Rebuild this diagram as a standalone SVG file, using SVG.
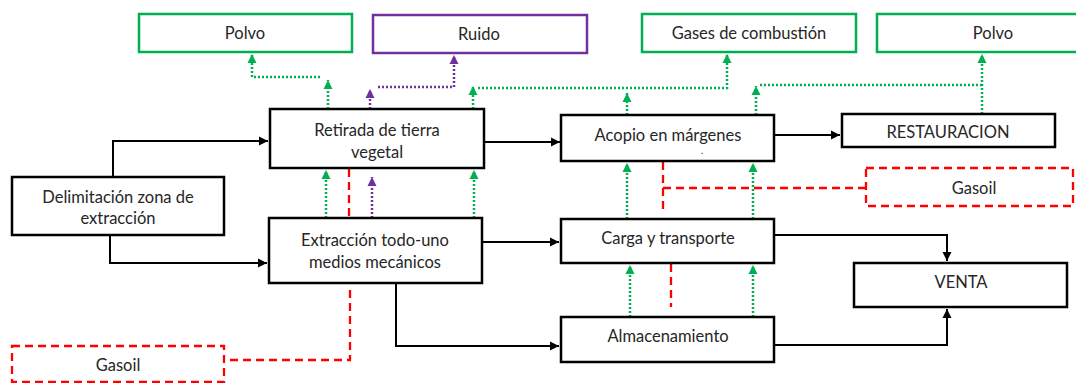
<svg xmlns="http://www.w3.org/2000/svg" width="1076" height="383" viewBox="0 0 1076 383">
<style>
.box{fill:#fff;stroke:#000;stroke-width:2.5}
.g{fill:#fff;stroke:#00b050;stroke-width:2.5}
.p{fill:#fff;stroke:#7030a0;stroke-width:2.5}
.r{fill:none;stroke:#ff0000;stroke-width:2.3;stroke-dasharray:8 5}
.t{font-family:Lato,"Open Sans",sans-serif;font-size:16.5px;fill:#262626;text-anchor:middle}
.blk{fill:none;stroke:#000;stroke-width:2}
.gd{fill:none;stroke:#00b050;stroke-width:2.5;stroke-dasharray:2 2}
.pd{fill:none;stroke:#7030a0;stroke-width:2.5;stroke-dasharray:2 2}
</style>
<defs>
<marker id="ab" markerWidth="10" markerHeight="10" refX="9" refY="5" orient="auto" markerUnits="userSpaceOnUse"><path d="M0,0.5 L9,5 L0,9.5z" fill="#000"/></marker>
<marker id="ag" markerWidth="10" markerHeight="10" refX="9" refY="5" orient="auto" markerUnits="userSpaceOnUse"><path d="M0,0.5 L9,5 L0,9.5z" fill="#00b050"/></marker>
<marker id="ap" markerWidth="10" markerHeight="10" refX="9" refY="5" orient="auto" markerUnits="userSpaceOnUse"><path d="M0,0.5 L9,5 L0,9.5z" fill="#7030a0"/></marker>
</defs>
<rect width="1076" height="383" fill="#fff"/>
<g id="connectors">
<path class="blk" d="M113,177 V141 H268" marker-end="url(#ab)"/>
<path class="blk" d="M110,235 V263 H267" marker-end="url(#ab)"/>
<path class="blk" d="M484,142 H560" marker-end="url(#ab)"/>
<path class="blk" d="M482,242 H559" marker-end="url(#ab)"/>
<path class="blk" d="M396,283 V346 H559" marker-end="url(#ab)"/>
<path class="blk" d="M774,135 H840" marker-end="url(#ab)"/>
<path class="blk" d="M774,235 H947 V261" marker-end="url(#ab)"/>
<path class="blk" d="M774,345 H947 V309" marker-end="url(#ab)"/>
<path class="gd" d="M328,109 V80" marker-end="url(#ag)"/>
<path class="gd" d="M320,77 H252 V54" marker-end="url(#ag)"/>
<path class="gd" d="M473,109 V86" marker-end="url(#ag)"/>
<path class="gd" d="M478,88 H727 V54" marker-end="url(#ag)"/>
<path class="gd" d="M627,115 V93" marker-end="url(#ag)"/>
<path class="gd" d="M756,115 V86" marker-end="url(#ag)"/>
<path class="gd" d="M760,85 H982"/>
<path class="gd" d="M982,114 V54" marker-end="url(#ag)"/>
<path class="gd" d="M326,218 V170" marker-end="url(#ag)"/>
<path class="gd" d="M474,218 V170" marker-end="url(#ag)"/>
<path class="gd" d="M627,219 V163" marker-end="url(#ag)"/>
<path class="gd" d="M753,219 V163" marker-end="url(#ag)"/>
<path class="gd" d="M630,317 V265" marker-end="url(#ag)"/>
<path class="gd" d="M753,317 V265" marker-end="url(#ag)"/>
<path class="pd" d="M370,109 V89" marker-end="url(#ap)"/>
<path class="pd" d="M378,87 H454 V55" marker-end="url(#ap)"/>
<path class="pd" d="M372,218 V177" marker-end="url(#ap)"/>
<path class="r" d="M349,169 V218"/>
<path class="r" d="M350,290 V360 H225"/>
<path class="r" d="M663,162 V213"/>
<path class="r" d="M663,188 H866"/>
<path class="r" d="M671,264 V307"/>
</g>
<g id="polvo1"><rect class="g" x="139" y="14" width="213" height="38"/><text class="t" x="245" y="39">Polvo</text></g>
<g id="ruido"><rect class="p" x="373" y="15" width="214" height="38"/><text class="t" x="479" y="40">Ruido</text></g>
<g id="gases"><rect class="g" x="642" y="14" width="214" height="38"/><text class="t" x="749" y="39">Gases de combustión</text></g>
<g id="polvo2"><rect class="g" x="877" y="14" width="210" height="38"/><text class="t" x="993" y="39">Polvo</text></g>
<g id="retirada"><rect class="box" x="270" y="109" width="214" height="59"/><text class="t" x="377" y="136">Retirada de tierra</text><text class="t" x="377" y="158">vegetal</text></g>
<g id="delimitacion"><rect class="box" x="12" y="177" width="212" height="58"/><text class="t" x="118" y="203">Delimitación zona de</text><text class="t" x="118" y="224">extracción</text></g>
<g id="extraccion"><rect class="box" x="269" y="218" width="213" height="65"/><text class="t" x="375" y="246">Extracción todo-uno</text><text class="t" x="375" y="268">medios mecánicos</text></g>
<g id="acopio"><rect class="box" x="561" y="115" width="213" height="46"/><text class="t" x="668" y="141">Acopio en márgenes</text><text class="t" x="702" y="154" style="font-size:9px">.</text></g>
<g id="restauracion"><rect class="box" x="842" y="114" width="213" height="33"/><text class="t" x="948" y="138">RESTAURACION</text></g>
<g id="carga"><rect class="box" x="561" y="219" width="213" height="44"/><text class="t" x="668" y="244">Carga y transporte</text></g>
<g id="almacenamiento"><rect class="box" x="561" y="317" width="213" height="45"/><text class="t" x="668" y="342">Almacenamiento</text></g>
<g id="venta"><rect class="box" x="854" y="263" width="213" height="44"/><text class="t" x="961" y="288">VENTA</text></g>
<g id="gasoil2"><rect class="r" x="866" y="168" width="207" height="38"/><text class="t" x="974" y="194">Gasoil</text></g>
<g id="gasoil1"><rect class="r" x="12" y="346" width="212" height="36"/><text class="t" x="118" y="371">Gasoil</text></g>
</svg>
